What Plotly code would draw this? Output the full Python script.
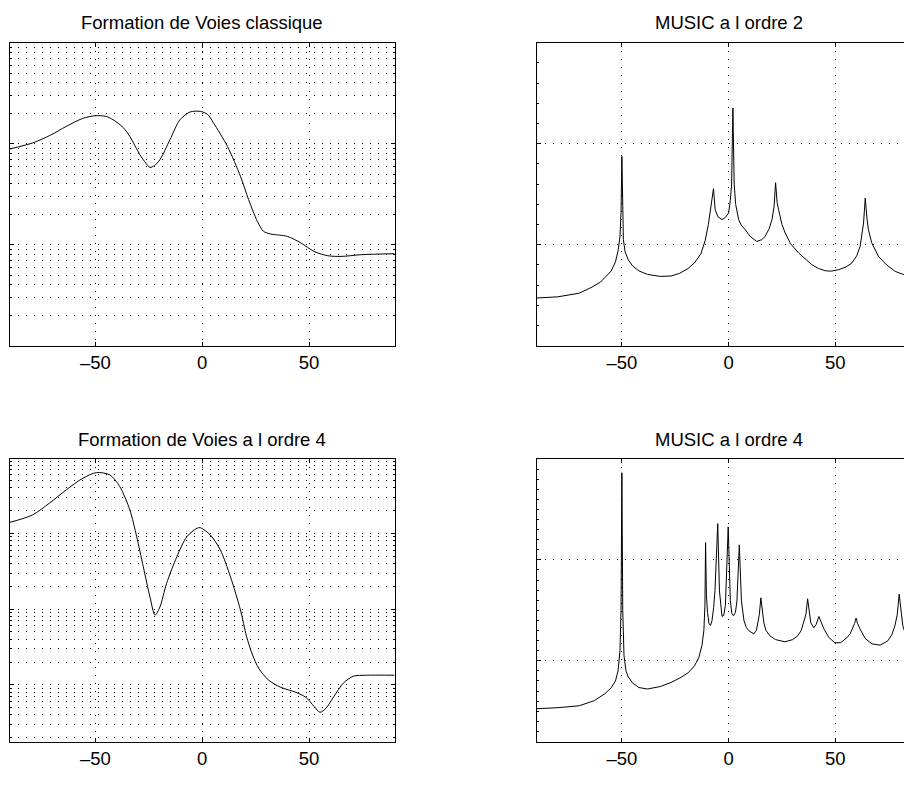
import numpy as np
import plotly.graph_objects as go

# page body has an 8 px margin: figure is placed at (8, 8) in the window
OFF = 8
W, H = 912 - OFF, 792 - OFF

# ---------------- data (levels stored as log10 of power) ----------------
fv1_x = [-90, -79.5, -71, -63.7, -56, -50.1, -45, -41.8, -37, -33.9,
         -29.2, -26.5, -24.5, -22.3, -19.8, -15.1, -10.4, -5.7, -0.9, 2.5,
         5.2, 11.8, 17.9, 21.7, 25.8, 28.7, 32.0, 39.9, 46.2, 52.3,
         58.7, 65.0, 74.4, 90]
fv1_log10 = [-0.052, 0.007, 0.085, 0.171, 0.25, 0.277, 0.27, 0.238, 0.16, 0.072,
             -0.109, -0.19, -0.235, -0.215, -0.158, 0.040, 0.238, 0.314, 0.320, 0.29,
             0.208, -0.027, -0.324, -0.554, -0.769, -0.868, -0.894, -0.918, -0.983, -1.066,
             -1.109, -1.116, -1.099, -1.089]

fv4_x = [-90, -79.5, -71.6, -63.7, -55.9, -49.5, -43.3, -38.6, -33.9, -30.7,
         -27.6, -24.5, -22.1, -19.8, -16.7, -11.9, -7.2, -2.5, -0.9, 3.8,
         8.5, 13.2, 17.9, 20.7, 23.6, 26.4, 31.1, 36.7, 43.8, 48.5,
         52.3, 55.1, 57.9, 61.7, 66.0, 70.7, 76.8, 90]
fv4_log10 = [0.148, 0.245, 0.400, 0.576, 0.731, 0.805, 0.775, 0.620, 0.311, -0.042,
             -0.440, -0.837, -1.079, -0.970, -0.660, -0.307, -0.042, 0.069, 0.077, -0.020,
             -0.219, -0.572, -1.013, -1.358, -1.609, -1.781, -1.940, -2.033, -2.099, -2.166,
             -2.285, -2.364, -2.311, -2.152, -1.980, -1.887, -1.874, -1.874]

mu2_x = [-90, -80, -70, -64, -60, -57, -55, -53, -51.7, -50.9,
         -50.4, -50.0, -49.6, -49.3, -48.5, -47, -45, -42, -38, -32,
         -27, -23, -19, -16, -13, -11, -9.5, -8.0, -7.1, -6.3,
         -5.0, -3.1, -1.5, 0.0, 0.8, 1.4, 2.0, 2.6, 3.3, 4.7,
         6.0, 7.8, 10.0, 13.2, 15.5, 17.1, 19.0, 20.3, 21.3, 22.0,
         22.7, 23.4, 25.0, 26.5, 29.0, 32.8, 36.0, 39.0, 42.0, 45.2,
         48.0, 51.5, 55.0, 57.7, 60.0, 61.6, 63.2, 64.0, 64.8, 65.5,
         67.0, 70.2, 74.0, 78.0, 82.0, 85.8, 90]
mu2_log10 = [-2.64, -2.58, -2.40, -2.10, -1.85, -1.55, -1.30, -0.85, -0.25, 0.41,
             1.6, 4.37, 1.4, 0.25, -0.35, -0.75, -1.05, -1.30, -1.47, -1.57,
             -1.55, -1.42, -1.18, -0.90, -0.45, 0.2, 1.0, 2.0, 2.77, 1.73,
             1.38, 1.24, 1.35, 1.57, 2.2, 3.0, 6.77, 3.0, 2.0, 1.24,
             0.95, 0.74, 0.42, 0.16, 0.25, 0.41, 0.8, 1.24, 1.9, 3.07,
             2.1, 1.73, 1.0, 0.58, 0.05, -0.41, -0.72, -0.99, -1.17, -1.29,
             -1.31, -1.24, -1.10, -0.91, -0.55, -0.08, 1.07, 2.31, 1.3, 0.74,
             0.1, -0.58, -1.0, -1.32, -1.48, -1.60, -1.72]

mu4_x = [-90, -80, -70, -63, -58, -55, -53, -51.8, -50.9, -50.4,
         -50.0, -49.6, -49.0, -48.1, -47, -45, -42, -38, -32, -27,
         -22.8, -19, -16, -14, -12.5, -11.6, -11.1, -10.8, -10.4, -9.9,
         -9.2, -8.5, -7.8, -7.0, -6.4, -5.1, -4.3, -3.6, -3.1, -2.3,
         -1.5, -0.2, 0.8, 1.5, 2.3, 3.2, 3.9, 5.0, 6.0, 7.2,
         8.3, 9.5, 11.8, 13.0, 13.7, 14.4, 15.1, 15.8, 16.5, 17.5,
         19.3, 22.0, 26.4, 30.0, 32.4, 34.0, 35.2, 36.2, 37.0, 37.8,
         38.5, 39.9, 41.0, 42.3, 43.4, 44.6, 47.0, 49.8, 52.5, 55.4,
         57.0, 58.2, 59.0, 59.7, 60.4, 61.5, 64.0, 67.1, 71.0, 74.6,
         76.5, 77.9, 79.0, 79.9, 80.8, 81.6, 83.5, 85.8, 90]
mu4_log10 = [-4.75, -4.65, -4.46, -3.96, -3.27, -2.67, -2.0, -0.99, 0.99, 5.0,
             18.64, 5.0, 0.5, -0.99, -1.6, -2.2, -2.65, -2.8, -2.55, -2.15,
             -1.7, -1.2, -0.5, 0.3, 1.5, 3.0, 5.5, 11.71, 6.5, 4.8,
             3.7, 3.5, 3.96, 5.3, 6.93, 13.59, 6.93, 5.0, 4.4, 4.5,
             5.5, 13.27, 5.94, 4.7, 4.46, 4.8, 5.94, 11.49, 5.94, 3.96,
             3.3, 2.97, 2.67, 3.0, 3.76, 4.6, 6.24, 4.6, 3.76, 3.0,
             2.48, 2.1, 1.88, 2.1, 2.48, 3.0, 3.76, 4.6, 6.14, 4.6,
             3.76, 3.27, 3.6, 4.39, 3.7, 3.17, 2.3, 1.78, 1.8, 2.28,
             2.7, 3.27, 3.7, 4.23, 3.7, 3.17, 2.2, 1.68, 1.55, 1.98,
             2.6, 3.47, 4.6, 6.60, 4.6, 3.47, 2.2, 1.19, 0.5]

titles = ["Formation de Voies classique", "MUSIC a l ordre 2",
          "Formation de Voies a l ordre 4", "MUSIC a l ordre 4"]
x_tickvals = [-50, 0, 50]
x_ticktext = ["\u201350", "0", "50"]

# ---------------- figure ----------------
FONT = "Liberation Sans, Arial, Helvetica, sans-serif"
LINE = dict(color="black", width=1)

fig = go.Figure()
fig.add_trace(go.Scatter(x=fv1_x, y=np.power(10.0, fv1_log10), xaxis="x", yaxis="y",
                         mode="lines", line=dict(LINE, shape="spline", smoothing=0.8)))
fig.add_trace(go.Scatter(x=mu2_x, y=np.power(10.0, mu2_log10), xaxis="x2", yaxis="y2",
                         mode="lines", line=LINE))
fig.add_trace(go.Scatter(x=fv4_x, y=np.power(10.0, fv4_log10), xaxis="x3", yaxis="y3",
                         mode="lines", line=dict(LINE, shape="spline", smoothing=0.8)))
fig.add_trace(go.Scatter(x=mu4_x, y=np.power(10.0, mu4_log10), xaxis="x4", yaxis="y4",
                         mode="lines", line=LINE))


def px_x(p):
    return (p - OFF) / W


def px_y(p):
    return 1 - (p - OFF) / H


left_dom = [px_x(10), px_x(394.5)]
right_dom = [px_x(536.5), 1.0]
top_dom = [px_y(345.7), px_y(42.7)]
bot_dom = [px_y(741.5), px_y(459)]

GRID = dict(showgrid=True, gridcolor="black", gridwidth=1, griddash="1px,7px")


def xaxis(dom, anchor, rng):
    return dict(domain=dom, anchor=anchor, range=rng, tickmode="array",
                tickvals=x_tickvals, ticktext=x_ticktext, ticks="inside", ticklen=4,
                tickcolor="black", showline=True, linecolor="black", linewidth=1,
                mirror="ticks", zeroline=False,
                tickfont=dict(family=FONT, size=18.5, color="black"), **GRID)


def yaxis(dom, anchor, rng, dtick, minor_dtick, minor_grid, mirror):
    return dict(domain=dom, anchor=anchor, type="log", range=rng, dtick=dtick,
                ticks="inside", ticklen=4, tickcolor="black", showticklabels=False,
                showline=True, linecolor="black", linewidth=1, mirror=mirror,
                zeroline=False,
                minor=dict(dtick=minor_dtick, ticks="inside", ticklen=2, tickcolor="black",
                           showgrid=minor_grid, gridcolor="black", gridwidth=1,
                           griddash="1px,7px"),
                **GRID)


fig.update_layout(
    width=W, height=H, margin=dict(l=0, r=0, t=0, b=0),
    paper_bgcolor="white", plot_bgcolor="white", showlegend=False,
    xaxis=xaxis(left_dom, "y", [-90, 90]),
    yaxis=yaxis(top_dom, "x", [-2, 1], 1, "D1", True, "ticks"),
    xaxis2=xaxis(right_dom, "y2", [-90, 85.9]),
    yaxis2=yaxis(top_dom, "x2", [-5, 10], 5, 1, False, False),
    xaxis3=xaxis(left_dom, "y3", [-90, 90]),
    yaxis3=yaxis(bot_dom, "x3", [-2.75, 0.985], 1, "D1", True, "ticks"),
    xaxis4=xaxis(right_dom, "y4", [-90, 85.9]),
    yaxis4=yaxis(bot_dom, "x4", [-8, 20], 10, 1, False, False),
)

title_pos = [(202, 22), (728.7, 22), (202, 439), (728.7, 439)]
for t, (cx, cy) in zip(titles, title_pos):
    fig.add_annotation(text=t, x=px_x(cx), y=px_y(cy), xref="paper", yref="paper",
                       xanchor="center", yanchor="middle", showarrow=False,
                       font=dict(family=FONT, size=18.5, color="black"))

fig.write_html("out.html")
